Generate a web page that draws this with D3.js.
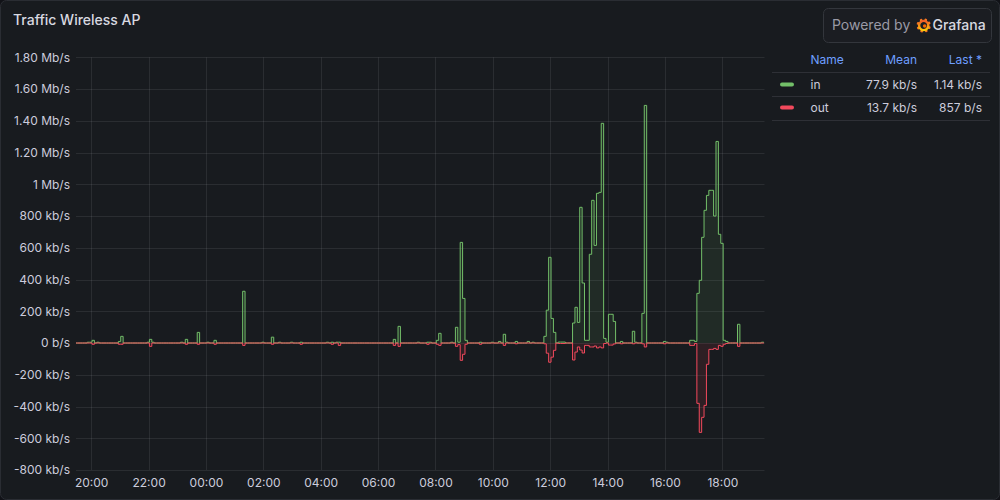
<!DOCTYPE html>
<html><head><meta charset="utf-8">
<script src="https://cdn.jsdelivr.net/npm/d3@7"></script>
<style>
html,body{margin:0;padding:0;background:#111217;}
svg{display:block;font-family:Inter,"Noto Sans",sans-serif;}
</style></head><body>
<svg id="c" width="1000" height="500"></svg>
<script>
// ---------- data ----------
const title = "Traffic Wireless AP";
const seriesNames = ["in", "out"];
const seriesColors = ["#73BF69", "#F2495C"];
const legendHeaders = ["Name", "Mean", "Last *"];
const legendMean = ["77.9 kb/s", "13.7 kb/s"];
const legendLast = ["1.14 kb/s", "857 b/s"];
const yTickValues = [1800, 1600, 1400, 1200, 1000, 800, 600, 400, 200, 0, -200, -400, -600, -800]; // kb/s
const yTickLabels = ["1.80 Mb/s", "1.60 Mb/s", "1.40 Mb/s", "1.20 Mb/s", "1 Mb/s", "800 kb/s", "600 kb/s",
  "400 kb/s", "200 kb/s", "0 b/s", "-200 kb/s", "-400 kb/s", "-600 kb/s", "-800 kb/s"];
const xTickLabels = ["20:00", "22:00", "00:00", "02:00", "04:00", "06:00", "08:00", "10:00", "12:00", "14:00", "16:00", "18:00"];
const rangeStart = "2024-05-01T19:28:12";
const rangeHours = 24;
const seriesStart = "2024-05-01T19:26:45";
const stepMinutes = 5;
// in (kb/s), one row per hour of 5-minute samples
const inValues = [
  0,0,0,0,0,5,5,17,0,5,0,0,
  0,0,0,0,0,0,10,42,0,0,0,0,
  0,0,0,0,0,0,5,23,5,0,0,0,
  0,0,0,0,0,0,0,0,5,0,23,0,
  0,0,0,67,0,0,0,5,0,0,17,0,
  0,0,0,0,0,0,0,0,0,0,326,0,
  0,0,0,0,0,0,5,0,0,0,37,0,
  0,5,0,0,0,0,5,0,0,0,5,0,
  0,0,0,0,0,0,0,0,0,5,0,5,
  0,5,5,0,0,0,0,0,0,0,0,0,
  0,0,0,0,0,0,0,0,0,0,0,0,
  0,23,0,105,0,0,0,0,0,0,0,5,
  0,0,0,5,5,0,0,17,61,0,0,0,
  0,5,0,99,5,634,281,17,0,0,0,0,
  0,5,0,0,0,0,5,0,0,10,0,55,
  5,0,0,0,10,0,0,0,0,10,0,5,
  0,0,0,0,42,207,540,155,67,0,6,6,
  6,0,0,0,126,225,130,855,378,17,17,559,
  899,615,943,949,1384,29,5,181,181,136,0,0,
  10,0,0,0,0,74,5,0,0,187,1497,0,
  0,0,0,0,0,0,10,5,0,0,0,0,
  0,0,0,0,0,17,17,10,313,395,666,836,
  930,962,962,800,1270,685,628,17,10,0,0,0,
  0,118,0,0,0,0,0,0,0,0,0,5,
  1.14
];
// out (kb/s), drawn with negative-Y transform
const outValues = [
  0,0,0,0,0,0,0,8,0,0,0,0,
  0,0,0,0,0,0,8,8,0,0,0,0,
  0,0,0,0,0,0,0,21,0,0,0,0,
  0,0,0,0,0,0,0,0,0,0,8,0,
  0,0,0,8,0,0,0,0,0,0,8,0,
  0,0,0,0,0,0,0,0,0,0,15,0,
  0,0,0,0,0,0,0,0,0,0,8,0,
  0,0,0,0,0,0,0,0,0,0,8,0,
  0,0,0,0,0,0,0,0,0,0,0,8,
  0,0,15,0,0,0,0,0,0,0,0,0,
  0,0,0,0,0,0,0,0,0,0,0,0,
  0,15,0,21,0,0,0,0,0,0,0,0,
  0,0,0,8,0,0,0,8,15,0,0,0,
  0,0,0,21,10,109,71,8,0,0,0,0,
  0,8,0,0,0,0,0,0,0,0,0,15,
  0,0,0,0,5,0,0,0,0,0,0,0,
  0,0,0,0,5,64,121,89,46,0,3,3,
  3,0,0,0,107,57,25,44,63,15,15,25,
  25,19,31,25,31,3,0,13,13,6,0,0,
  5,0,0,0,0,5,0,0,0,5,25,0,
  0,0,0,0,0,0,5,0,0,0,0,0,
  0,0,0,0,0,15,15,3,380,563,468,393,
  134,40,40,34,40,15,21,8,3,0,0,0,
  0,21,0,0,0,0,0,0,0,0,0,0,
  0.857
];

// ---------- layout ----------
const W = 1000, H = 500;
const plot = {left: 76, right: 764.5, top: 57.3, bottom: 470};
const svg = d3.select("#c");

// panel
svg.append("rect").attr("x", 0.5).attr("y", 0.5).attr("width", W - 1).attr("height", H - 1)
  .attr("rx", 6).attr("fill", "#181b1f").attr("stroke", "#2a2d33");

svg.append("text").attr("x", 13).attr("y", 20).attr("dy", "0.35em")
  .attr("fill", "#d8d9e0").attr("font-size", 14).attr("font-weight", 500).text(title);

// scales
const t0 = new Date(rangeStart);
const t1 = new Date(t0.getTime() + rangeHours * 3600e3);
const x = d3.scaleTime().domain([t0, t1]).range([plot.left, plot.right]);
const y = d3.scaleLinear().domain([-800, 1800]).range([plot.bottom, plot.top]);

const s0 = new Date(seriesStart).getTime();
const mk = (arr, sign) => arr.map((v, i) => ({t: new Date(s0 + i * stepMinutes * 60e3), v: sign * v}));
const inData = mk(inValues, 1);
const outData = mk(outValues, -1);

// x tick dates from labels
const xTickDates = xTickLabels.map(l => {
  const [hh, mm] = l.split(":").map(Number);
  const d = new Date(t0); d.setHours(hh, mm, 0, 0);
  if (d < t0) d.setDate(d.getDate() + 1);
  return d;
});

// grid
const grid = svg.append("g").attr("stroke", "rgba(204,204,220,0.1)").attr("stroke-width", 1);
yTickValues.forEach(v => {
  const yy = Math.round(y(v)) + 0.5;
  grid.append("line").attr("x1", plot.left).attr("x2", plot.right).attr("y1", yy).attr("y2", yy);
});
xTickDates.forEach(d => {
  const xx = Math.round(x(d)) + 0.5;
  grid.append("line").attr("x1", xx).attr("x2", xx).attr("y1", plot.top).attr("y2", plot.bottom);
});

// axes (labels only, Grafana-style)
const yAxis = d3.axisLeft(y).tickValues(yTickValues).tickSize(0).tickPadding(0)
  .tickFormat((d, i) => yTickLabels[i]);
const gy = svg.append("g").attr("transform", `translate(${plot.left - 6},0)`).call(yAxis);
gy.select(".domain").remove();
gy.selectAll("text").attr("fill", "#ccccdc").attr("font-size", 12).attr("font-family", "Inter");

const xAxis = d3.axisBottom(x).tickValues(xTickDates).tickSize(0).tickPadding(0)
  .tickFormat((d, i) => xTickLabels[i]);
const gx = svg.append("g").attr("transform", `translate(0,${plot.bottom + 8})`).call(xAxis);
gx.select(".domain").remove();
gx.selectAll("text").attr("fill", "#ccccdc").attr("font-size", 12).attr("font-family", "Inter");

// clip
svg.append("clipPath").attr("id", "clip").append("rect")
  .attr("x", plot.left).attr("y", plot.top - 2).attr("width", plot.right - plot.left)
  .attr("height", plot.bottom - plot.top + 4);
const g = svg.append("g").attr("clip-path", "url(#clip)");

const area = d3.area().curve(d3.curveStepAfter).x(d => x(d.t)).y0(y(0)).y1(d => y(d.v));
const line = d3.line().curve(d3.curveStepAfter).x(d => x(d.t)).y(d => y(d.v));

[inData, outData].forEach((data, k) => {
  g.append("path").datum(data).attr("d", area).attr("fill", seriesColors[k]).attr("fill-opacity", 0.1);
});
[inData, outData].forEach((data, k) => {
  g.append("path").datum(data).attr("d", line).attr("fill", "none")
    .attr("stroke", seriesColors[k]).attr("stroke-width", 1);
});

// legend table
const lg = svg.append("g").attr("font-size", 12);
const colX = {name: 810.5, mean: 917, last: 982};
lg.append("text").attr("x", colX.name).attr("y", 60).attr("dy", "0.35em").attr("fill", "#6e9fff").text(legendHeaders[0]);
lg.append("text").attr("x", colX.mean).attr("y", 60).attr("dy", "0.35em").attr("text-anchor", "end").attr("fill", "#6e9fff").text(legendHeaders[1]);
lg.append("text").attr("x", colX.last).attr("y", 60).attr("dy", "0.35em").attr("text-anchor", "end").attr("fill", "#6e9fff").text(legendHeaders[2]);
[72.5, 96.5, 120.5].forEach(yy => {
  lg.append("line").attr("x1", 772).attr("x2", 990).attr("y1", yy).attr("y2", yy)
    .attr("stroke", "rgba(204,204,220,0.12)");
});
seriesNames.forEach((n, i) => {
  const yy = 84.5 + i * 23;
  lg.append("rect").attr("x", 780).attr("y", yy - 2).attr("width", 14).attr("height", 4).attr("rx", 2)
    .attr("fill", seriesColors[i]);
  lg.append("text").attr("x", colX.name).attr("y", yy).attr("dy", "0.35em").attr("fill", "#ccccdc").text(n);
  lg.append("text").attr("x", colX.mean).attr("y", yy).attr("dy", "0.35em").attr("text-anchor", "end").attr("fill", "#ccccdc").text(legendMean[i]);
  lg.append("text").attr("x", colX.last).attr("y", yy).attr("dy", "0.35em").attr("text-anchor", "end").attr("fill", "#ccccdc").text(legendLast[i]);
});

// Powered by Grafana badge
const b = svg.append("g");
b.append("rect").attr("x", 823.5).attr("y", 8.5).attr("width", 168).attr("height", 34).attr("rx", 5)
  .attr("fill", "#1b1d22").attr("stroke", "#33363c");
b.append("text").attr("x", 832).attr("y", 25).attr("dy", "0.35em").attr("font-size", 14)
  .attr("fill", "#9a9aa6").text("Powered by");
const defs = svg.append("defs");
const lgr = defs.append("linearGradient").attr("id", "gfg").attr("x1", 0).attr("y1", 1).attr("x2", 0).attr("y2", 0);
lgr.append("stop").attr("offset", "0").attr("stop-color", "#FBCA0A");
lgr.append("stop").attr("offset", "1").attr("stop-color", "#F05A28");
const logo = b.append("g").attr("transform", "translate(923.7,25.5)");
for (let k = 0; k < 8; k++) {
  logo.append("rect").attr("x", -1.3).attr("y", -7.2).attr("width", 2.6).attr("height", 3)
    .attr("rx", 0.8).attr("fill", "url(#gfg)").attr("transform", `rotate(${k * 45 + 20})`);
}
logo.append("circle").attr("r", 4.6).attr("fill", "none").attr("stroke", "url(#gfg)").attr("stroke-width", 2.4);
logo.append("circle").attr("cx", 1).attr("cy", 0.5).attr("r", 1.8).attr("fill", "#F46800");
b.append("text").attr("x", 932.5).attr("y", 25).attr("dy", "0.35em").attr("font-size", 14)
  .attr("font-weight", 500).attr("fill", "#d8d9e0").text("Grafana");
</script>
</body></html>
